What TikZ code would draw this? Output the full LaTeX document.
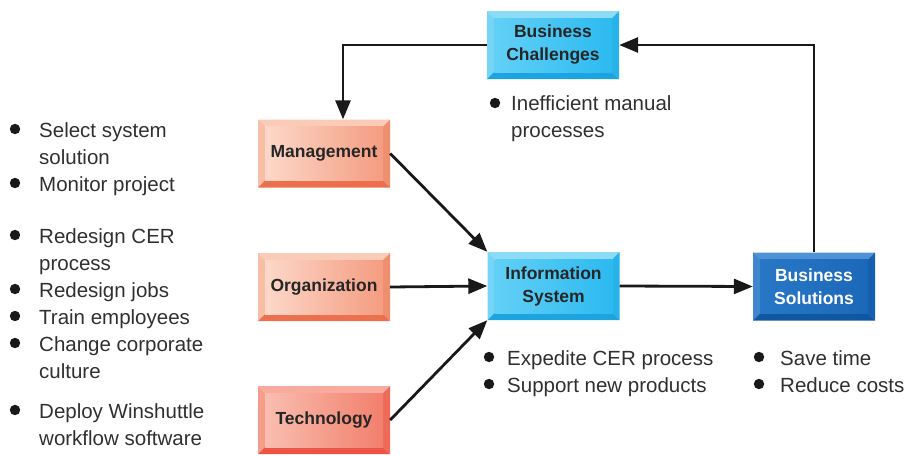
\documentclass[tikz,border=0pt]{standalone}
\usepackage{fontspec}
\setmainfont{Liberation Sans}
\usetikzlibrary{arrows.meta}
\definecolor{txt}{HTML}{303030}
\definecolor{lbl}{HTML}{262626}
\tikzset{
  bevel/.style n args={6}{
    path picture={
      \coordinate (ppnw) at (path picture bounding box.north west);
      \coordinate (ppne) at (path picture bounding box.north east);
      \coordinate (ppsw) at (path picture bounding box.south west);
      \coordinate (ppse) at (path picture bounding box.south east);
      \fill[#1] (ppnw) -- (ppne) -- ([shift={(-7pt,-7pt)}]ppne) -- ([shift={(7pt,-7pt)}]ppnw) -- cycle;
      \fill[#2] (ppnw) -- (ppsw) -- ([shift={(7pt,7pt)}]ppsw) -- ([shift={(7pt,-7pt)}]ppnw) -- cycle;
      \fill[#3] (ppne) -- (ppse) -- ([shift={(-7pt,7pt)}]ppse) -- ([shift={(-7pt,-7pt)}]ppne) -- cycle;
      \fill[#4] (ppsw) -- (ppse) -- ([shift={(-7pt,7pt)}]ppse) -- ([shift={(7pt,7pt)}]ppsw) -- cycle;
      \shade[left color=#5, right color=#6] ([shift={(7pt,-7pt)}]ppnw) rectangle ([shift={(-7pt,7pt)}]ppse);
    }},
  boxnode/.style={minimum width=132pt, minimum height=68pt, inner sep=0pt, align=center,
    font=\bfseries\fontsize{17.5}{23}\selectfont, text=lbl},
  bluebox/.style={boxnode, bevel={color={rgb,255:red,140;green,220;blue,248}}{color={rgb,255:red,118;green,212;blue,246}}{color={rgb,255:red,40;green,178;blue,234}}{color={rgb,255:red,28;green,164;blue,224}}{{rgb,255:red,98;green,208;blue,246}}{{rgb,255:red,44;green,186;blue,240}}},
  salmonbox/.style={boxnode, bevel={color={rgb,255:red,250;green,203;blue,183}}{color={rgb,255:red,249;green,190;blue,166}}{color={rgb,255:red,240;green,142;blue,112}}{color={rgb,255:red,236;green,112;blue,78}}{{rgb,255:red,252;green,216;blue,201}}{{rgb,255:red,244;green,156;blue,128}}},
  redbox/.style={boxnode, bevel={color={rgb,255:red,248;green,170;blue,156}}{color={rgb,255:red,246;green,156;blue,139}}{color={rgb,255:red,239;green,106;blue,88}}{color={rgb,255:red,236;green,84;blue,67}}{{rgb,255:red,249;green,190;blue,176}}{{rgb,255:red,242;green,127;blue,108}}},
  darkbox/.style={boxnode, text=white, minimum width=122pt, bevel={color={rgb,255:red,78;green,145;blue,212}}{color={rgb,255:red,63;green,134;blue,206}}{color={rgb,255:red,21;green,95;blue,174}}{color={rgb,255:red,15;green,86;blue,163}}{{rgb,255:red,40;green,119;blue,199}}{{rgb,255:red,28;green,104;blue,184}}},
  item/.style={anchor=base west, inner sep=0pt, align=left, text=txt,
    font=\fontsize{20.5}{27}\selectfont},
  arr/.style={draw=black!90, line width=2.8pt, -{Triangle[length=19pt,width=15pt]}},
}
\newcommand{\bul}[2]{\fill[black!90] (#1,#2) circle (5.2pt);}
\begin{document}
\begin{tikzpicture}[x=1pt,y=-1pt]
\useasboundingbox (0,0) rectangle (907,455);
% boxes
\node[bluebox] (bc) at (553,45) {Business\\Challenges};
\node[salmonbox] (mg) at (324,153.5) {Management};
\node[salmonbox] (org) at (324,287) {Organization};
\node[redbox] (tech) at (324,420) {Technology};
\node[bluebox] (is) at (553.5,286) {Information\\System};
\node[darkbox] (bs) at (814,286.5) {Business\\Solutions};
% connectors
\draw[arr] (bc.west) -| ([xshift=19pt]mg.north);
\draw[arr] (bs.north) |- (bc.east);
\draw[arr] (mg.east) -- (is.north west);
\draw[arr] (org.east) -- (is.west);
\draw[arr] (tech.east) -- (is.south west);
\draw[arr] (is.east) -- (bs.west);
% left bullets (multi-line nodes are placed by the baseline of their last line)
\bul{15}{129} \node[item] (l1) at (39,164) {Select system\\solution};
\bul{15}{183} \node[item] (l2) at (39,191) {Monitor project};
\bul{15}{235} \node[item] (l3) at (39,270) {Redesign CER\\process};
\bul{15}{289} \node[item] (l4) at (39,297) {Redesign jobs};
\bul{15}{316} \node[item] (l5) at (39,324) {Train employees};
\bul{15}{343} \node[item] (l6) at (39,378) {Change corporate\\culture};
\bul{15}{410} \node[item] (l7) at (39,445) {Deploy Winshuttle\\workflow software};
% challenge bullets
\bul{495}{103} \node[item] (c1) at (511,137) {Inefficient manual\\processes};
% information system bullets
\bul{489}{357} \node[item] (i1) at (507,365) {Expedite CER process};
\bul{489}{384} \node[item] (i2) at (507,392) {Support new products};
% solution bullets
\bul{759}{357} \node[item] (s1) at (780,365) {Save time};
\bul{759}{384} \node[item] (s2) at (780,392) {Reduce costs};
\end{tikzpicture}
\end{document}
